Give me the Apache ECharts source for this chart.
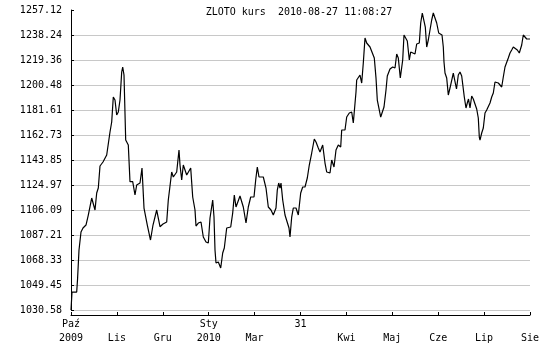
<!DOCTYPE html>
<html><head><meta charset="utf-8">
<script src="https://cdn.jsdelivr.net/npm/echarts@6/dist/echarts.min.js"></script>
<style>html,body{margin:0;padding:0;background:#fff}#c{width:550px;height:350px}</style>
</head><body><div id="c"></div>
<script>
const titleText = 'ZLOTO kurs  2010-08-27 11:08:27';
const xTickLabels = ['Paź\n2009','\nLis','\nGru','Sty\n2010','\nMar','31\n','\nKwi','\nMaj','\nCze','\nLip','\nSie'];
const yTickLabels = ['1030.58','1049.45','1068.33','1087.21','1106.09','1124.97','1143.85','1162.73','1181.61','1200.48','1219.36','1238.24','1257.12'];
const yMin = 1030.58, yMax = 1257.12;
const xMax = 459;
const days = [0,1,5.7,6.5,8,10,12,15,17.3,20.7,24,25.7,27.3,29,32,35.7,39,40.7,42.3,44,45.7,47.3,49,50.7,51.7,53,54.7,57.3,59,61.7,64,65.7,69,71,73,76.3,79.5,82,85.7,89,92,95.7,97.3,100.7,102.3,105.7,108,109,110.7,112.3,114,115.7,117.3,119.7,121.7,124,125,127.3,130,132.3,135,137.3,139,141.7,143,144,145,147.3,149.7,151.7,153.3,155.7,159.7,161.7,163.3,165,166.7,169,170.7,172.3,175,177.3,179.7,183,184.7,186.3,188,192.3,195,197.3,200,202.3,205,206.3,207.7,209,210,211.7,214,215.7,218,219,220.7,222.3,225,227.3,229.7,231.7,234,236.3,238.3,240.7,243.3,245,247.3,249,251.7,254,255.7,259,260.7,263,265,267.3,269.7,270.7,274,275.7,278.3,280.7,282.3,285,285.7,289,290.7,292.3,294,295.7,299,300.7,303.3,305,306.3,308.3,309.7,311.7,313,315,316.3,319,321.7,324,325.7,327.3,329.3,331.7,333,334.5,336.3,338.3,339.7,341.7,344,345.7,348.3,349.7,351.3,353,354.3,355.7,357.3,359,360.7,362.3,364,365.7,367.7,369.7,371,372.3,373,374,375.7,377.3,379,380.7,382.3,384,385.5,387.3,389,390.7,392.3,393.3,395,396.3,397.5,399,400.7,402.3,404,405.7,407.3,408.3,409,410.7,412.3,414,415.7,417.3,419,420.7,422.3,424,425.7,427.3,429,430.7,432.3,434,435.7,437.3,439,440.7,442.3,444,446.3,448.3,450.7,452.3,454,455.7,459];
const prices = [1030.56,1044.15,1044.15,1053.22,1075.87,1089.47,1092.49,1094.75,1102.30,1115.14,1106.08,1118.92,1122.69,1139.31,1142.33,1147.62,1164.99,1172.54,1191.42,1189.15,1177.82,1180.09,1189.15,1210.30,1214.07,1208.03,1158.94,1155.17,1127.45,1127.45,1117.41,1124.96,1126.47,1137.80,1107.59,1094.75,1083.42,1094.75,1106.08,1093.47,1095.51,1097.02,1113.63,1134.78,1131.00,1134.78,1151.39,1140.06,1128.74,1140.06,1140.06,1132.51,1132.51,1137.80,1115.90,1106.08,1094.00,1096.26,1097.02,1085.69,1081.91,1081.16,1100.04,1113.63,1100.79,1075.87,1066.05,1066.81,1062.28,1073.61,1077.38,1092.49,1093.24,1103.81,1117.41,1108.35,1109.86,1116.65,1115.90,1108.35,1096.26,1108.35,1115.90,1115.90,1128.74,1138.55,1131.00,1131.00,1122.69,1108.35,1106.08,1102.30,1107.59,1121.18,1126.47,1122.69,1126.47,1113.63,1102.30,1100.79,1092.49,1085.69,1100.79,1107.59,1107.59,1102.30,1118.92,1123.45,1123.45,1130.25,1140.06,1149.13,1159.70,1157.43,1152.90,1149.88,1155.17,1141.57,1134.78,1134.02,1143.84,1138.55,1151.39,1155.17,1153.66,1166.50,1166.50,1176.31,1179.33,1180.09,1171.78,1195.19,1204.26,1208.03,1201.99,1217.09,1235.97,1232.20,1229.18,1228.42,1220.87,1205.77,1189.15,1181.60,1176.31,1176.31,1183.87,1196.70,1207.28,1212.56,1214.07,1213.32,1223.89,1220.87,1205.77,1219.36,1238.24,1237.48,1233.71,1219.36,1225.40,1226.91,1223.89,1231.44,1232.20,1247.30,1254.85,1255.61,1244.28,1229.18,1234.46,1234.46,1249.57,1254.85,1253.34,1247.30,1239.75,1239.75,1238.24,1229.18,1217.85,1209.54,1205.77,1192.93,1198.21,1198.21,1209.54,1208.79,1197.46,1208.03,1210.30,1207.28,1205.77,1191.42,1183.11,1186.89,1189.91,1183.11,1192.17,1189.91,1186.13,1182.36,1175.56,1161.21,1158.94,1164.23,1168.01,1179.33,1181.60,1183.11,1186.89,1191.42,1194.44,1202.75,1204.26,1201.99,1202.75,1198.97,1206.52,1214.07,1214.07,1220.87,1224.65,1226.91,1229.18,1228.42,1226.91,1224.65,1230.69,1238.24,1236.73,1235.22,1235.22];

const yInterval = (yMax - yMin) / (yTickLabels.length - 1);
const xInterval = xMax / (xTickLabels.length - 1);
const font = 'DejaVu Sans Mono';
const chart = echarts.init(document.getElementById('c'), null, {renderer: 'canvas'});
chart.setOption({
  animation: false,
  backgroundColor: '#fff',
  title: {
    text: titleText, left: 294, top: 2, textAlign: 'center',
    textStyle: {fontFamily: font, fontSize: 10, fontWeight: 'normal', color: '#000'}
  },
  grid: {left: 71, right: 20, top: 10, bottom: 40},
  xAxis: {
    type: 'value', min: 0, max: xMax, interval: xInterval, offset: 5,
    axisLine: {lineStyle: {color: '#000', width: 1}},
    axisTick: {inside: true, length: 3, lineStyle: {color: '#000'}},
    splitLine: {show: false},
    axisLabel: {
      margin: 2, fontFamily: font, fontSize: 10, color: '#000', lineHeight: 14,
      formatter: v => xTickLabels[Math.round(v / xInterval)] || ''
    }
  },
  yAxis: {
    type: 'value', min: yMin, max: yMax, interval: yInterval,
    axisLine: {show: true, lineStyle: {color: '#000', width: 1}},
    axisTick: {show: true, inside: true, length: 3, lineStyle: {color: '#000'}},
    splitLine: {show: true, showMaxLine: false, lineStyle: {color: '#c8c8c8', width: 1}},
    axisLabel: {
      margin: 9, fontFamily: font, fontSize: 10, color: '#000',
      formatter: v => yTickLabels[Math.round((v - yMin) / yInterval)] || ''
    }
  },
  series: [{
    type: 'line', data: days.map((d, i) => [d, prices[i]]),
    showSymbol: false, symbol: 'none',
    lineStyle: {color: '#000', width: 1.2}
  }]
});
</script></body></html>
